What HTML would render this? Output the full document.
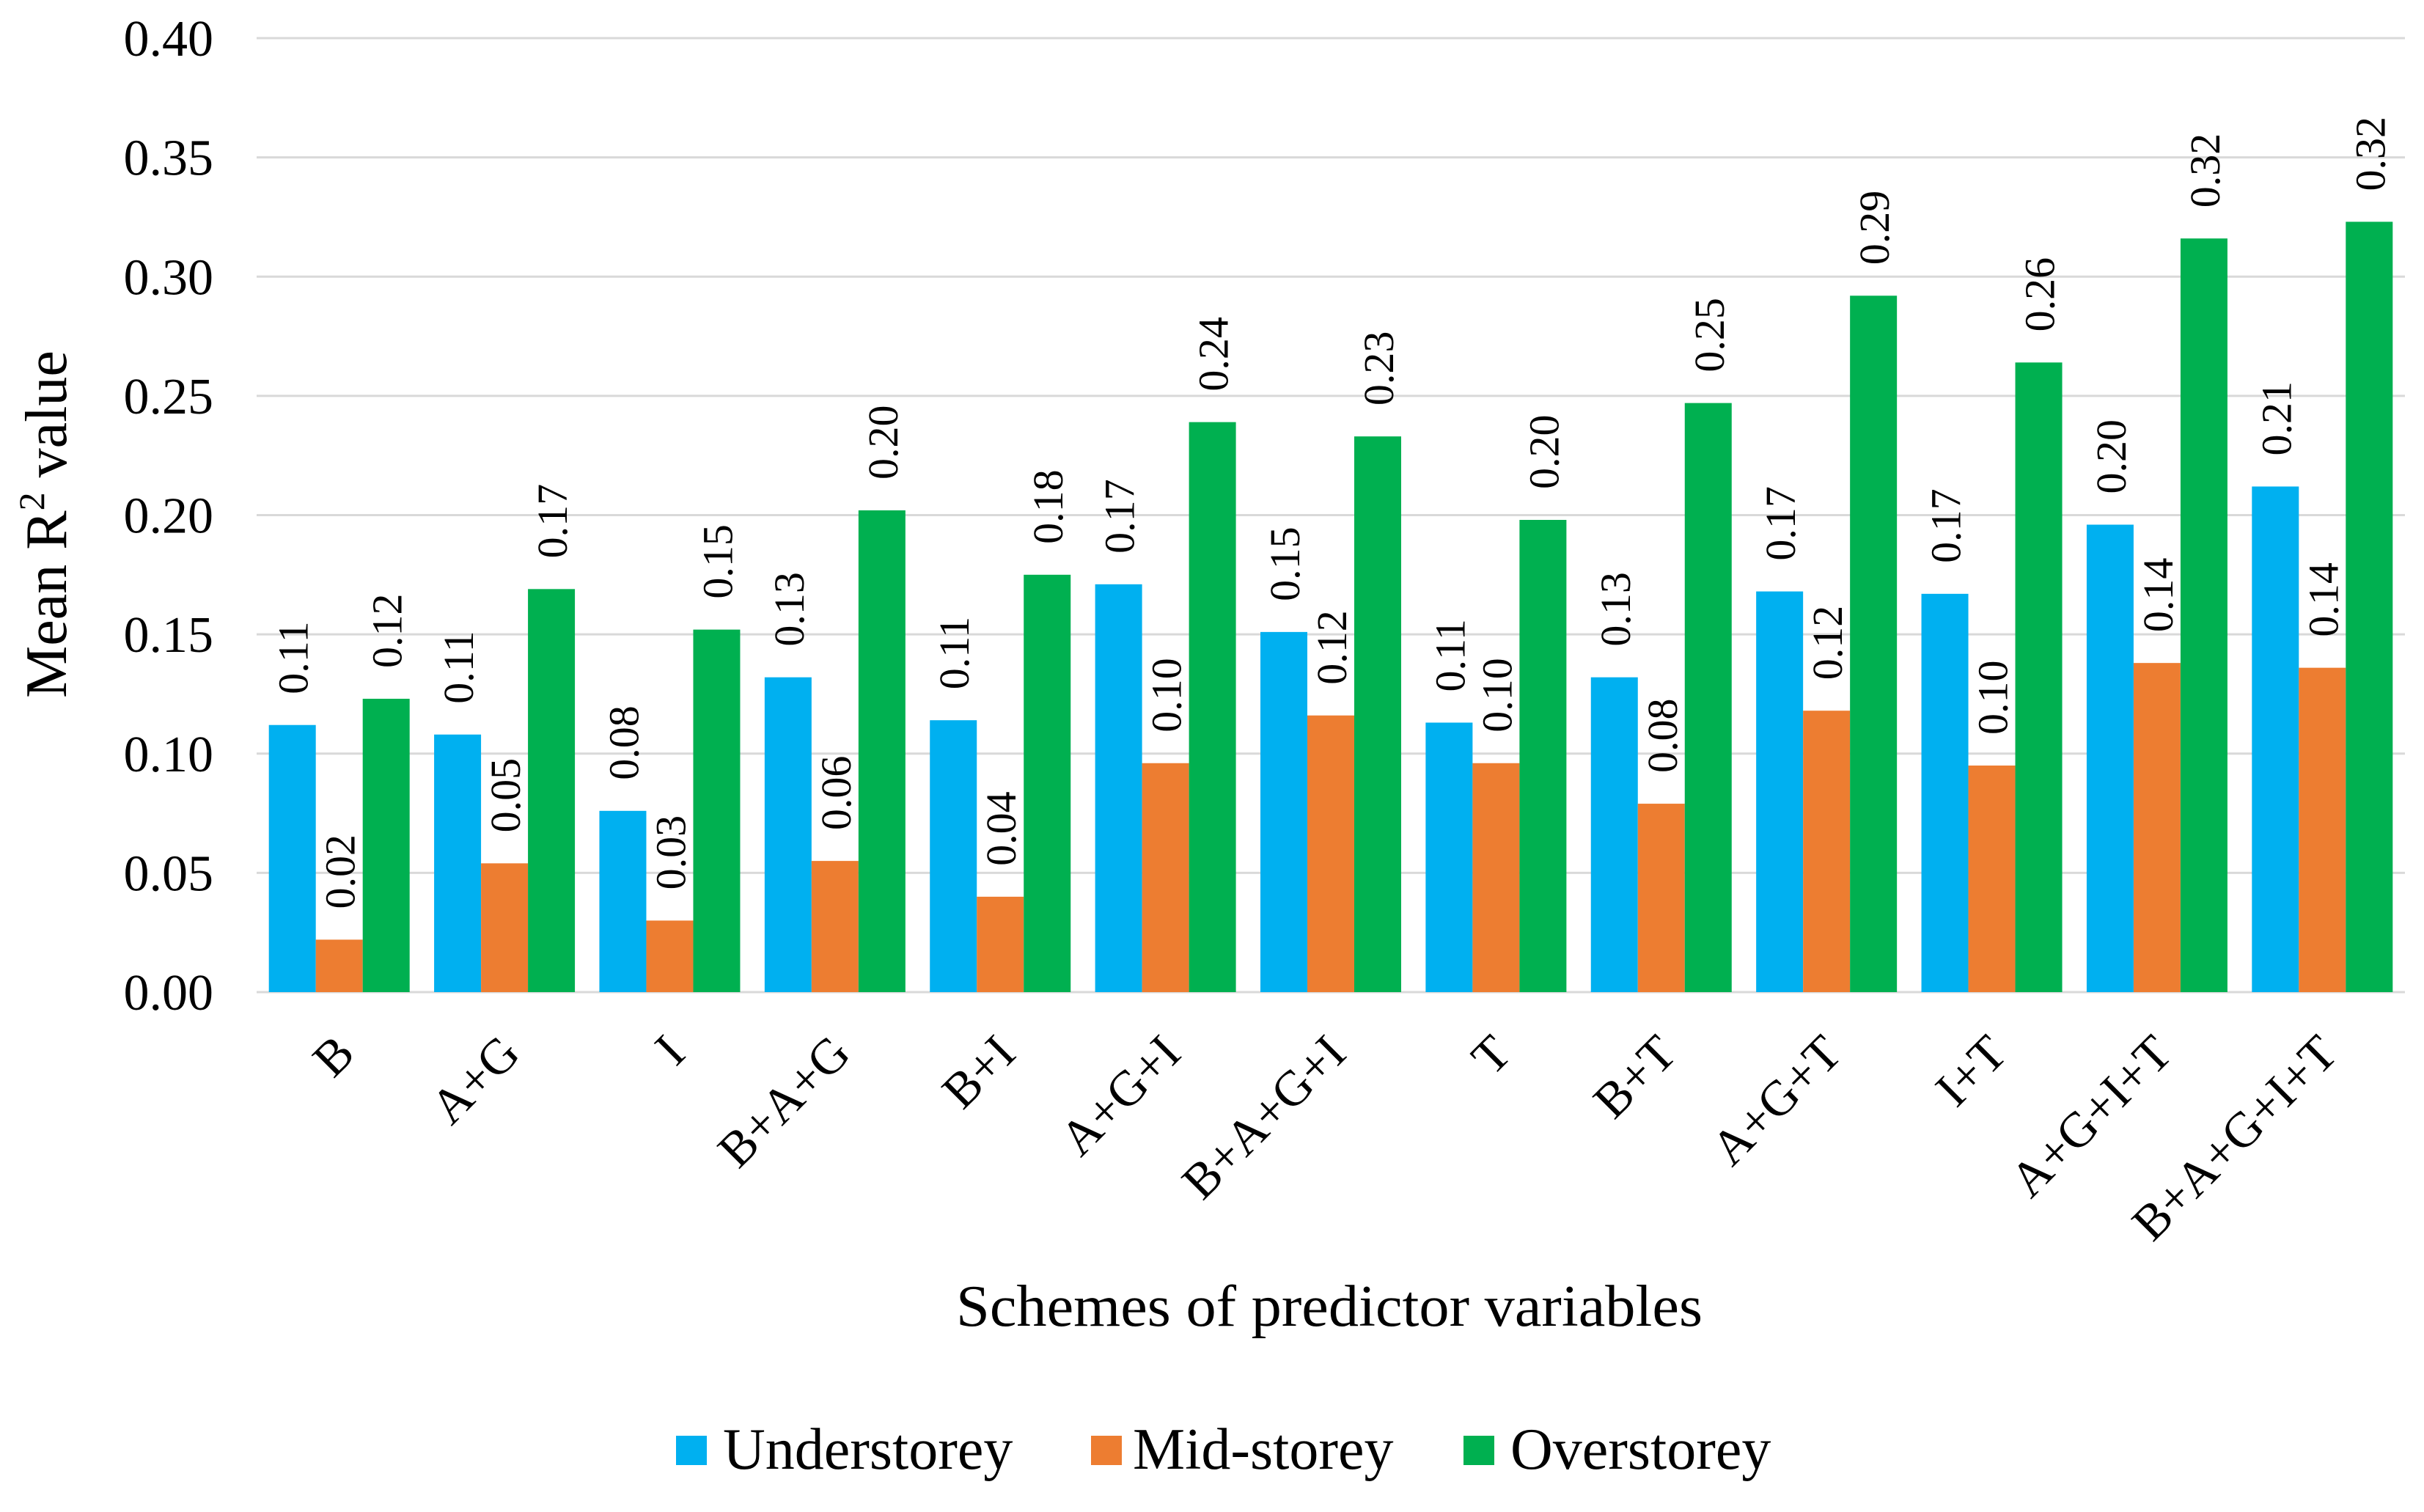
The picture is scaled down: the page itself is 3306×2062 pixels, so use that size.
<!DOCTYPE html>
<html><head><meta charset="utf-8">
<style>
html,body{margin:0;padding:0;background:#fff;}
svg{display:block;}
text{font-family:"Liberation Serif","DejaVu Serif",serif;}
</style></head>
<body>
<svg id="chart" width="3306" height="2062" viewBox="0 0 3306 2062" xmlns="http://www.w3.org/2000/svg">
<rect x="0" y="0" width="3306" height="2062" fill="#fff"/>
<g id="grid"></g>
<g id="yticks"></g>
<g id="bars"></g>
<g id="vlabels"></g>
<g id="xticks"></g>
<text transform="translate(90,715) rotate(-90)" text-anchor="middle" font-size="80">Mean R<tspan font-size="50" dy="-30">2</tspan><tspan dy="30"> value</tspan></text>
<text x="1813" y="1808" text-anchor="middle" font-size="80" textLength="1018" lengthAdjust="spacingAndGlyphs">Schemes of predictor variables</text>
<g id="legend">
  <g>
    <rect x="922" y="1958" width="42" height="40" fill="#00b0f0"/>
    <text x="986" y="2003" font-size="80">Understorey</text>
  </g>
  <g>
    <rect x="1488" y="1958" width="42" height="40" fill="#ed7d31"/>
    <text x="1545" y="2003" font-size="80">Mid-storey</text>
  </g>
  <g>
    <rect x="1996" y="1958" width="42" height="40" fill="#00b050"/>
    <text x="2060" y="2003" font-size="80">Overstorey</text>
  </g>
</g>
</svg>
<script>
const categories = ["B","A+G","I","B+A+G","B+I","A+G+I","B+A+G+I","T","B+T","A+G+T","I+T","A+G+I+T","B+A+G+I+T"];
const understorey = [0.112,0.108,0.076,0.132,0.114,0.171,0.151,0.113,0.132,0.168,0.167,0.196,0.212];
const midstorey = [0.022,0.054,0.030,0.055,0.040,0.096,0.116,0.096,0.079,0.118,0.095,0.138,0.136];
const overstorey = [0.123,0.169,0.152,0.202,0.175,0.239,0.233,0.198,0.247,0.292,0.264,0.316,0.323];
const understoreyLabels = ["0.11","0.11","0.08","0.13","0.11","0.17","0.15","0.11","0.13","0.17","0.17","0.20","0.21"];
const midstoreyLabels = ["0.02","0.05","0.03","0.06","0.04","0.10","0.12","0.10","0.08","0.12","0.10","0.14","0.14"];
const overstoreyLabels = ["0.12","0.17","0.15","0.20","0.18","0.24","0.23","0.20","0.25","0.29","0.26","0.32","0.32"];
const yTicks = ["0.00","0.05","0.10","0.15","0.20","0.25","0.30","0.35","0.40"];

const NS = "http://www.w3.org/2000/svg";
const plotL = 350, plotR = 3280, y0 = 1353, yTop = 52, yMax = 0.40;
const catW = (plotR - plotL) / categories.length;
const barW = 64;
function yScale(v){ return y0 - v / yMax * (y0 - yTop); }
function xGroup(i){ return plotL + i * catW + (catW - 3 * barW) / 2; }
function mk(tag, attrs, parent){ const e = document.createElementNS(NS, tag); for (const k in attrs) e.setAttribute(k, attrs[k]); parent.appendChild(e); return e; }

const grid = document.getElementById('grid');
const yt = document.getElementById('yticks');
yTicks.forEach((t) => {
  const y = yScale(parseFloat(t));
  const ln = mk('line', {x1: plotL, x2: plotR, y1: y, y2: y, stroke: '#d9d9d9', 'stroke-width': 3}, grid);
  
  
  const tx = mk('text', {x: 291, y: y + 24, 'text-anchor': 'end', 'font-size': 70}, yt);
  tx.textContent = t;
  
  
});

const series = [understorey, midstorey, overstorey];
const labels = [understoreyLabels, midstoreyLabels, overstoreyLabels];
const colors = ['#00b0f0', '#ed7d31', '#00b050'];
const snames = ['understorey', 'mid-storey', 'overstorey'];
const bars = document.getElementById('bars');
const vl = document.getElementById('vlabels');
const xt = document.getElementById('xticks');
categories.forEach((c, i) => {
  const gx = xGroup(i);
  series.forEach((s, j) => {
    const v = s[i];
    const x = gx + j * barW;
    const y = yScale(v);
    const r = mk('rect', {x: x, y: y, width: barW, height: y0 - y, fill: colors[j]}, bars);
    
    
    const cx = x + barW / 2 + 21, cy = y - 42;
    const t = mk('text', {transform: 'translate(' + cx + ',' + cy + ') rotate(-90)', 'font-size': 58}, vl);
    t.textContent = labels[j][i];
    
    
  });
  const cx = gx + 1.5 * barW + 24;
  const lt = mk('text', {transform: 'translate(' + cx + ',1440) rotate(-45)', 'text-anchor': 'end', 'font-size': 68}, xt);
  lt.textContent = c;
  
  
});
const base = mk('line', {x1: plotL, x2: plotR, y1: y0, y2: y0, stroke: '#d9d9d9', 'stroke-width': 3}, grid);


</script>
</body></html>
